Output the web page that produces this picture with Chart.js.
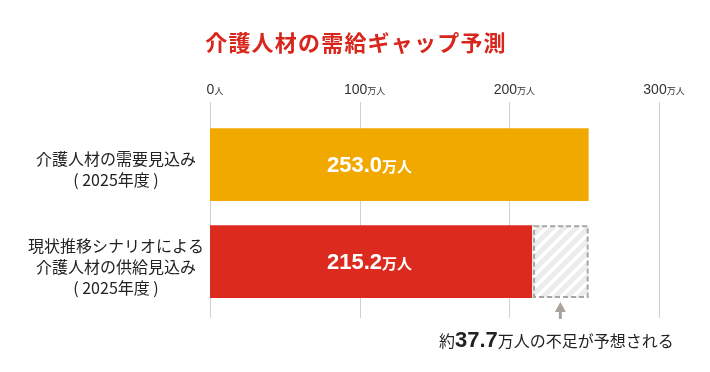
<!DOCTYPE html>
<html><head><meta charset="utf-8">
<script src="https://cdn.jsdelivr.net/npm/chart.js@4/dist/chart.umd.min.js"></script>
<style>html,body{margin:0;padding:0;background:#fff}canvas{display:block}</style>
</head><body>
<canvas id="c" width="710" height="372"></canvas>
<script>
const titleText = '介護人材の需給ギャップ予測';
const categories = [['介護人材の需要見込み','( 2025年度 )'], ['現状推移シナリオによる','介護人材の供給見込み','( 2025年度 )']];
const values = [253.0, 215.2];
const valueUnit = '万人';
const barColors = ['#F1A900', '#DC2A1F'];
const gapValues = [null, values[0] - values[1]];
const gapLabelNum = '37.7';
const gapPrefix = '約';
const gapSuffix = '万人の不足が予想される';
const tickValues = [0, 100, 200, 300];
const tickUnits = ['人', '万人', '万人', '万人'];

const LATIN = '"Liberation Sans", "Noto Sans CJK JP", sans-serif';
const JP = '"Noto Sans CJK JP", sans-serif';

function makePattern() {
  const s = 12;
  const cv = document.createElement('canvas');
  cv.width = s; cv.height = s;
  const g = cv.getContext('2d');
  g.fillStyle = '#ffffff'; g.fillRect(0, 0, s, s);
  g.strokeStyle = '#ececec'; g.lineWidth = 5;
  g.beginPath();
  g.moveTo(-s/2, s/2); g.lineTo(s/2, -s/2);
  g.moveTo(0, s); g.lineTo(s, 0);
  g.moveTo(s/2, 3*s/2); g.lineTo(3*s/2, s/2);
  g.stroke();
  return document.getElementById('c').getContext('2d').createPattern(cv, 'repeat');
}

function drawMixed(ctx, parts, cx, cy, align) {
  let total = 0;
  parts.forEach(p => { ctx.font = p.font; p.w = ctx.measureText(p.text).width; total += p.w; });
  let x = align === 'left' ? cx : cx - total / 2;
  ctx.textBaseline = 'alphabetic';
  ctx.textAlign = 'left';
  parts.forEach(p => { ctx.font = p.font; ctx.fillStyle = p.color; ctx.fillText(p.text, x, cy); x += p.w; });
}

const decor = {
  id: 'decor',
  beforeDatasetsDraw(chart) {
    const ctx = chart.ctx, xs = chart.scales.x, ca = chart.chartArea;
    ctx.save();
    ctx.strokeStyle = '#d0d0d0'; ctx.lineWidth = 1;
    tickValues.forEach(v => {
      const px = Math.round(xs.getPixelForValue(v)) + 0.5;
      ctx.beginPath(); ctx.moveTo(px, ca.top - 14); ctx.lineTo(px, ca.bottom + 8); ctx.stroke();
    });
    ctx.restore();
  },
  afterDatasetsDraw(chart) {
    const ctx = chart.ctx, xs = chart.scales.x, ca = chart.chartArea;
    ctx.save();
    // title
    ctx.font = 'bold 22px ' + JP;
    ctx.fillStyle = '#D8261C';
    ctx.textAlign = 'center'; ctx.textBaseline = 'middle';
    if ('letterSpacing' in ctx) ctx.letterSpacing = '1.2px';
    ctx.fillText(titleText, 356, 43);
    if ('letterSpacing' in ctx) ctx.letterSpacing = '0px';
    // tick labels
    tickValues.forEach((v, i) => {
      const px = xs.getPixelForValue(v) + 5;
      drawMixed(ctx, [
        {text: String(v), font: '14px ' + LATIN, color: '#333'},
        {text: tickUnits[i], font: '9px ' + JP, color: '#333'}
      ], px, 94);
    });
    // category labels
    const m0 = chart.getDatasetMeta(0);
    ctx.font = '16px ' + JP; ctx.fillStyle = '#222';
    ctx.textAlign = 'center'; ctx.textBaseline = 'middle';
    categories.forEach((lines, i) => {
      const el = m0.data[i];
      const n = lines.length, lh = 21;
      const y0 = el.y + 5 - (n - 1) * lh / 2;
      lines.forEach((t, j) => ctx.fillText(t, 116, y0 + j * lh));
    });
    // value labels
    values.forEach((v, i) => {
      const el = m0.data[i];
      drawMixed(ctx, [
        {text: v.toFixed(1), font: 'bold 22px ' + LATIN, color: '#fff'},
        {text: valueUnit, font: 'bold 15px ' + JP, color: '#fff'}
      ], el.base + 117, el.y + 7, 'left');
    });
    // gap dashed border
    const m1 = chart.getDatasetMeta(1);
    const g = m1.data[1];
    const left = Math.min(g.base, g.x), right = Math.max(g.base, g.x);
    const top = g.y - g.height / 2, bot = g.y + g.height / 2;
    ctx.strokeStyle = '#aaa59f'; ctx.lineWidth = 2; ctx.setLineDash([5, 3]);
    ctx.strokeRect(left + 2, top + 1, right - left - 3, bot - top - 2);
    ctx.setLineDash([]);
    // arrow
    const ax = (left + right) / 2;
    ctx.fillStyle = '#a9a29b';
    ctx.beginPath();
    ctx.moveTo(ax, bot + 4); ctx.lineTo(ax + 5.5, bot + 14); ctx.lineTo(ax - 5.5, bot + 14); ctx.closePath(); ctx.fill();
    ctx.fillRect(ax - 1.5, bot + 13, 3, 8);
    // annotation
    drawMixed(ctx, [
      {text: gapPrefix, font: '16px ' + JP, color: '#222'},
      {text: gapLabelNum, font: 'bold 22px ' + LATIN, color: '#222'},
      {text: gapSuffix, font: '16px ' + JP, color: '#222'}
    ], ax - 4, bot + 49);
    ctx.restore();
  }
};

new Chart(document.getElementById('c'), {
  type: 'bar',
  data: {
    labels: categories,
    datasets: [
      {data: values, backgroundColor: barColors, borderWidth: 0, barPercentage: 0.75, categoryPercentage: 1},
      {data: gapValues, backgroundColor: makePattern(), borderWidth: 0, barPercentage: 0.75, categoryPercentage: 1}
    ]
  },
  options: {
    indexAxis: 'y',
    responsive: false,
    devicePixelRatio: 1,
    animation: false,
    layout: {padding: {left: 210, right: 51, top: 116, bottom: 62}},
    scales: {
      x: {display: false, min: 0, max: 300, stacked: true},
      y: {display: false, stacked: true}
    },
    plugins: {legend: {display: false}, tooltip: {enabled: false}, title: {display: false}}
  },
  plugins: [decor]
});
</script>
</body></html>
